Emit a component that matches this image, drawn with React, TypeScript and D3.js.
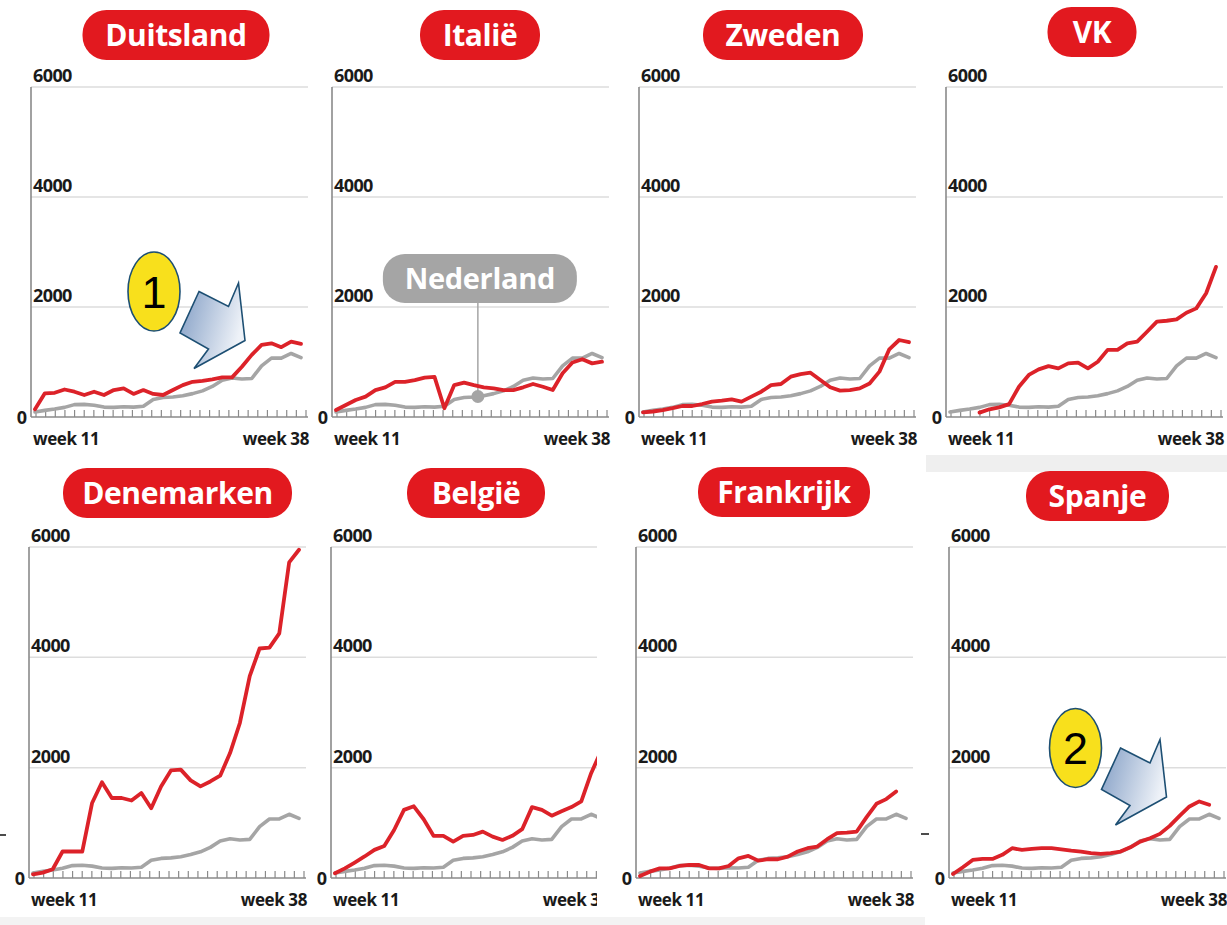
import React from 'react';
import * as d3 from 'd3';

// ---------- DATA ----------
const weeks = [11, 12, 13, 14, 15, 16, 17, 18, 19, 20, 21, 22, 23, 24, 25, 26, 27, 28, 29, 30, 31, 32, 33, 34, 35, 36, 37, 38];
const yTickValues = [2000, 4000, 6000];
const xLabels = ['week 11', 'week 38'];

const nederland = [90, 120, 145, 175, 225, 230, 215, 180, 175, 185, 180, 195, 320, 355, 365, 385, 425, 475, 555, 670, 710, 690, 700, 930, 1070, 1070, 1155, 1080];

const duitsland = [140, 430, 440, 500, 460, 400, 460, 400, 490, 520, 420, 490, 420, 400, 490, 580, 640, 655, 685, 720, 720, 915, 1130, 1310, 1340, 1270, 1370, 1330];
const italie = [127, 218, 310, 370, 490, 540, 640, 640, 670, 715, 730, 160, 580, 625, 580, 540, 520, 490, 490, 540, 600, 550, 490, 795, 990, 1050, 975, 1005];
const zweden = [85, 100, 127, 160, 200, 200, 236, 280, 297, 320, 280, 370, 460, 580, 600, 733, 780, 805, 673, 540, 480, 490, 520, 610, 825, 1230, 1400, 1360];
const vk = [null, null, null, 80, 140, 175, 235, 550, 765, 865, 925, 885, 975, 990, 885, 1005, 1220, 1220, 1340, 1370, 1550, 1735, 1750, 1775, 1895, 1975, 2250, 2730];
const denemarken = [67, 97, 158, 480, 480, 480, 1360, 1735, 1450, 1450, 1405, 1540, 1265, 1660, 1950, 1965, 1770, 1660, 1750, 1855, 2265, 2810, 3660, 4160, 4175, 4435, 5720, 5950];
const belgie = [85, 175, 280, 390, 510, 580, 870, 1235, 1300, 1065, 765, 765, 660, 765, 780, 840, 750, 690, 765, 885, 1285, 1235, 1130, 1210, 1285, 1390, 1900, 2300];
const frankrijk = [36, 115, 175, 175, 218, 236, 236, 175, 175, 218, 357, 400, 315, 340, 340, 388, 480, 540, 570, 703, 812, 824, 842, 1103, 1345, 1430, 1570, null];
const spanje = [73, 195, 327, 345, 345, 420, 540, 510, 527, 540, 540, 520, 497, 480, 450, 436, 450, 480, 557, 660, 720, 800, 945, 1127, 1297, 1388, 1327, null];

const countryNames = ['Duitsland', 'Italië', 'Zweden', 'VK', 'Denemarken', 'België', 'Frankrijk', 'Spanje'];
const countrySeries = [duitsland, italie, zweden, vk, denemarken, belgie, frankrijk, spanje];

const calloutLabel = 'Nederland';
const calloutWeek = 25.4;
const annotationNumbers = ['1', '2'];

// ---------- LAYOUT / STYLE ----------
const FONT = "'Open Sans', 'DejaVu Sans', sans-serif";
const RED = '#dc2229';
const PILL_RED = '#e2191f';
const GREY = '#a5a5a5';

const topRow = { base: 417, top: 87, clipY0: 0, clipY1: 460 };
const bottomRow = { base: 878, top: 547, clipY0: 460, clipY1: 925 };

const layouts = [
  { ax: 31, row: topRow, clipX0: 0, clipX1: 313, pillCx: 176, pillCy: 35, pillW: 187 },
  { ax: 332, row: topRow, clipX0: 313, clipX1: 620, pillCx: 480, pillCy: 35, pillW: 120 },
  { ax: 639, row: topRow, clipX0: 620, clipX1: 925, pillCx: 783, pillCy: 35, pillW: 160 },
  { ax: 946, row: topRow, clipX0: 925, clipX1: 1227, pillCx: 1092, pillCy: 32, pillW: 89 },
  { ax: 29, row: bottomRow, clipX0: 0, clipX1: 310, pillCx: 177.5, pillCy: 493, pillW: 229 },
  { ax: 331, row: bottomRow, clipX0: 310, clipX1: 597, pillCx: 476, pillCy: 493, pillW: 138 },
  { ax: 636, row: bottomRow, clipX0: 620, clipX1: 925, pillCx: 784, pillCy: 492, pillW: 172 },
  { ax: 949, row: bottomRow, clipX0: 925, clipX1: 1227, pillCx: 1097.5, pillCy: 496, pillW: 143 },
];

// annotation placement (ellipse centre) for panels 0 and 7
const annotationLayouts = [
  { cx: 154, cy: 291.5 },
  { cx: 1075.5, cy: 748 },
];
// arrow polygon relative to ellipse centre
const arrowShape: [number, number][] = [
  [45, 0], [74.5, 15], [84.5, -8.5], [91, 49], [40, 77], [54.5, 57.5], [26, 41.5],
];

function Panel({ idx }: { idx: number }) {
  const L = layouts[idx];
  const values = countrySeries[idx];
  const name = countryNames[idx];
  const { ax, row } = L;
  const x = d3.scaleLinear().domain([weeks[0], weeks[weeks.length - 1]]).range([ax + 4, ax + 270]);
  const y = d3.scaleLinear().domain([0, 6000]).range([row.base, row.top]);
  const tickScale = d3.scaleLinear().domain([0, 28]).range([ax + 5, ax + 275]);
  const tickIdx = d3.range(29);
  const right = ax + 277;

  const line = d3
    .line<number | null>()
    .defined((d) => d != null)
    .x((_, i) => x(weeks[i]))
    .y((d) => y(d as number));

  const clipId = `clip-${idx}`;

  // Nederland callout (Italië panel)
  let callout: React.ReactNode = null;
  let calloutDot: React.ReactNode = null;
  if (idx === 1) {
    const i0 = Math.floor(calloutWeek) - weeks[0];
    const t = calloutWeek - Math.floor(calloutWeek);
    const v = nederland[i0] + (nederland[i0 + 1] - nederland[i0]) * t;
    const cx = x(calloutWeek);
    const cy = y(v);
    const pillTop = y(3000) + 2;
    const pillH = 49;
    const pillW = 194;
    callout = (
      <g>
        <line x1={cx} x2={cx} y1={pillTop + pillH} y2={cy} stroke={GREY} strokeWidth={1.5} />
        <rect x={cx - 95} y={pillTop} width={pillW} height={pillH} rx={22} fill={GREY} />
        <text x={cx - 95 + pillW / 2} y={pillTop + pillH / 2 + 10.5} textAnchor="middle" fill="#fff"
          fontFamily={FONT} fontWeight={700} fontSize={29} letterSpacing={-0.3}>{calloutLabel}</text>
      </g>
    );
    calloutDot = <circle cx={cx} cy={cy} r={6.5} fill={GREY} />;
  }

  return (
    <g>
      <defs>
        <clipPath id={clipId}>
          <rect x={L.clipX0} y={row.clipY0} width={L.clipX1 - L.clipX0} height={row.clipY1 - row.clipY0} />
        </clipPath>
      </defs>
      <g clipPath={`url(#${clipId})`}>
        {yTickValues.map((v) => (
          <g key={v}>
            <line x1={ax} x2={right} y1={y(v)} y2={y(v)} stroke="#dddddd" strokeWidth={1.5} />
            <text x={ax + 2} y={y(v) - 5} fontFamily={FONT} fontWeight={700} fontSize={18}
              letterSpacing={-0.6} fill="#1a1a1a">{v}</text>
          </g>
        ))}
        <text x={ax - 4} y={row.base + 6.5} textAnchor="end" fontFamily={FONT} fontWeight={700}
          fontSize={18} fill="#1a1a1a">0</text>
        <line x1={ax} x2={ax} y1={y(6000)} y2={row.base} stroke="#8a8a8a" strokeWidth={1.6} />
        <line x1={ax} x2={right} y1={row.base} y2={row.base} stroke="#8a8a8a" strokeWidth={1.6} />
        {tickIdx.map((i) => (
          <line key={i} x1={tickScale(i)} x2={tickScale(i)} y1={row.base} y2={row.base - 7}
            stroke="#8a8a8a" strokeWidth={1.2} />
        ))}
        <text x={ax + 2} y={row.base + 28} fontFamily={FONT} fontWeight={700} fontSize={17}
          letterSpacing={-0.4} fill="#1a1a1a">{xLabels[0]}</text>
        <text x={ax + 278} y={row.base + 28} textAnchor="end" fontFamily={FONT} fontWeight={700}
          fontSize={17} letterSpacing={-0.4} fill="#1a1a1a">{xLabels[1]}</text>

        {callout}
        <path d={line(nederland) || ''} fill="none" stroke={GREY} strokeWidth={3.6}
          strokeLinejoin="round" strokeLinecap="round" />
        {calloutDot}
        <path d={line(values) || ''} fill="none" stroke={RED} strokeWidth={3.8}
          strokeLinejoin="round" strokeLinecap="round" />

        <rect x={L.pillCx - L.pillW / 2} y={L.pillCy - 25} width={L.pillW} height={50} rx={24}
          fill={PILL_RED} />
        <text x={L.pillCx} y={L.pillCy + 10.5} textAnchor="middle" fill="#fff" fontFamily={FONT}
          fontWeight={700} fontSize={30} letterSpacing={-0.4}>{name}</text>
      </g>
    </g>
  );
}

function Annotation({ k }: { k: number }) {
  const a = annotationLayouts[k];
  const pts = arrowShape.map(([dx, dy]) => `${a.cx + dx},${a.cy + dy}`).join(' ');
  return (
    <g>
      <polygon points={pts} fill="url(#arrowGrad)" stroke="#1d4f73" strokeWidth={1.6}
        strokeLinejoin="miter" />
      <ellipse cx={a.cx} cy={a.cy} rx={26} ry={39.5} fill="#f8e01c" stroke="#1d4f73" strokeWidth={1.6} />
      <text x={a.cx} y={a.cy + 16} textAnchor="middle" fontFamily="'Liberation Sans', Arial, sans-serif"
        fontSize={45} fill="#000">{annotationNumbers[k]}</text>
    </g>
  );
}

export default function App() {
  return (
    <svg width={1227} height={925} style={{ position: 'absolute', left: 0, top: 0, background: '#fff' }}>
      <defs>
        <linearGradient id="arrowGrad" x1="0" y1="0" x2="1" y2="0.35">
          <stop offset="0" stopColor="#7f9bc3" />
          <stop offset="1" stopColor="#eef2f8" />
        </linearGradient>
      </defs>
      <rect x={0} y={0} width={1227} height={925} fill="#fff" />
      <rect x={926} y={455} width={301} height={17} fill="#efefef" />
      <rect x={0} y={917} width={925} height={8} fill="#f3f3f3" />
      {layouts.map((_, i) => (
        <Panel key={i} idx={i} />
      ))}
      <line x1={0} x2={6} y1={835} y2={835} stroke="#111" strokeWidth={1.5} />
      <line x1={921} x2={929} y1={834} y2={834} stroke="#111" strokeWidth={1.5} />
      <Annotation k={0} />
      <Annotation k={1} />
    </svg>
  );
}
